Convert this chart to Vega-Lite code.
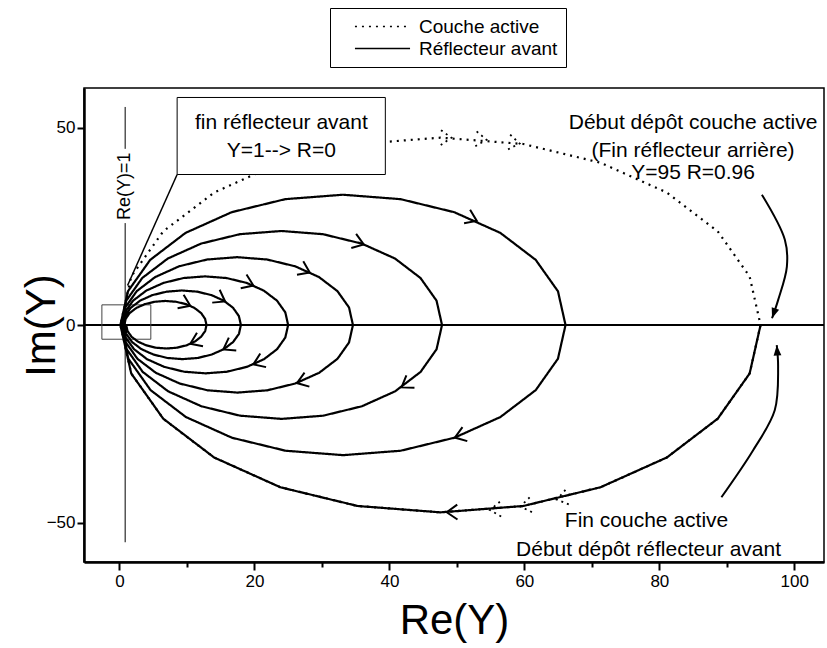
{
  "$schema": "https://vega.github.io/schema/vega-lite/v6.json",
  "width": 740,
  "height": 474,
  "autosize": {"type": "none"},
  "padding": {"left": 84, "top": 88, "right": 3, "bottom": 86},
  "background": "white",
  "config": {
    "font": "Liberation Sans",
    "view": {"stroke": "black", "strokeWidth": 1.5},
    "axis": {"grid": false, "domainColor": "black", "domainWidth": 2.5, "tickColor": "black", "tickWidth": 2, "labelColor": "black", "labelFontSize": 17, "titleColor": "black", "titleFontWeight": "normal", "titleFontSize": 42}
  },
  "datasets": {
    "curves": [
      {"s": "Réflecteur avant", "i": 0, "x": 95, "y": 0},
      {"s": "Réflecteur avant", "i": 1, "x": 93.38, "y": -12.28},
      {"s": "Réflecteur avant", "i": 2, "x": 88.65, "y": -23.72},
      {"s": "Réflecteur avant", "i": 3, "x": 81.11, "y": -33.54},
      {"s": "Réflecteur avant", "i": 4, "x": 71.28, "y": -41.08},
      {"s": "Réflecteur avant", "i": 5, "x": 59.84, "y": -45.82},
      {"s": "Réflecteur avant", "i": 6, "x": 47.57, "y": -47.43},
      {"s": "Réflecteur avant", "i": 7, "x": 35.29, "y": -45.82},
      {"s": "Réflecteur avant", "i": 8, "x": 23.85, "y": -41.08},
      {"s": "Réflecteur avant", "i": 9, "x": 14.03, "y": -33.54},
      {"s": "Réflecteur avant", "i": 10, "x": 6.49, "y": -23.72},
      {"s": "Réflecteur avant", "i": 11, "x": 1.75, "y": -12.28},
      {"s": "Réflecteur avant", "i": 12, "x": 0.14, "y": 0},
      {"s": "Réflecteur avant", "i": 13, "x": 1.26, "y": 8.54},
      {"s": "Réflecteur avant", "i": 14, "x": 4.56, "y": 16.49},
      {"s": "Réflecteur avant", "i": 15, "x": 9.8, "y": 23.32},
      {"s": "Réflecteur avant", "i": 16, "x": 16.63, "y": 28.56},
      {"s": "Réflecteur avant", "i": 17, "x": 24.58, "y": 31.86},
      {"s": "Réflecteur avant", "i": 18, "x": 33.12, "y": 32.98},
      {"s": "Réflecteur avant", "i": 19, "x": 41.65, "y": 31.86},
      {"s": "Réflecteur avant", "i": 20, "x": 49.61, "y": 28.56},
      {"s": "Réflecteur avant", "i": 21, "x": 56.44, "y": 23.32},
      {"s": "Réflecteur avant", "i": 22, "x": 61.68, "y": 16.49},
      {"s": "Réflecteur avant", "i": 23, "x": 64.98, "y": 8.54},
      {"s": "Réflecteur avant", "i": 24, "x": 66.1, "y": 0},
      {"s": "Réflecteur avant", "i": 25, "x": 64.98, "y": -8.53},
      {"s": "Réflecteur avant", "i": 26, "x": 61.69, "y": -16.48},
      {"s": "Réflecteur avant", "i": 27, "x": 56.45, "y": -23.3},
      {"s": "Réflecteur avant", "i": 28, "x": 49.63, "y": -28.54},
      {"s": "Réflecteur avant", "i": 29, "x": 41.68, "y": -31.83},
      {"s": "Réflecteur avant", "i": 30, "x": 33.15, "y": -32.95},
      {"s": "Réflecteur avant", "i": 31, "x": 24.62, "y": -31.83},
      {"s": "Réflecteur avant", "i": 32, "x": 16.67, "y": -28.54},
      {"s": "Réflecteur avant", "i": 33, "x": 9.85, "y": -23.3},
      {"s": "Réflecteur avant", "i": 34, "x": 4.61, "y": -16.48},
      {"s": "Réflecteur avant", "i": 35, "x": 1.32, "y": -8.53},
      {"s": "Réflecteur avant", "i": 36, "x": 0.2, "y": 0},
      {"s": "Réflecteur avant", "i": 37, "x": 1.01, "y": 6.16},
      {"s": "Réflecteur avant", "i": 38, "x": 3.38, "y": 11.9},
      {"s": "Réflecteur avant", "i": 39, "x": 7.17, "y": 16.83},
      {"s": "Réflecteur avant", "i": 40, "x": 12.1, "y": 20.61},
      {"s": "Réflecteur avant", "i": 41, "x": 17.84, "y": 22.99},
      {"s": "Réflecteur avant", "i": 42, "x": 24.0, "y": 23.8},
      {"s": "Réflecteur avant", "i": 43, "x": 30.16, "y": 22.99},
      {"s": "Réflecteur avant", "i": 44, "x": 35.9, "y": 20.61},
      {"s": "Réflecteur avant", "i": 45, "x": 40.83, "y": 16.83},
      {"s": "Réflecteur avant", "i": 46, "x": 44.61, "y": 11.9},
      {"s": "Réflecteur avant", "i": 47, "x": 46.99, "y": 6.16},
      {"s": "Réflecteur avant", "i": 48, "x": 47.8, "y": 0},
      {"s": "Réflecteur avant", "i": 49, "x": 46.99, "y": -6.15},
      {"s": "Réflecteur avant", "i": 50, "x": 44.62, "y": -11.88},
      {"s": "Réflecteur avant", "i": 51, "x": 40.84, "y": -16.8},
      {"s": "Réflecteur avant", "i": 52, "x": 35.92, "y": -20.58},
      {"s": "Réflecteur avant", "i": 53, "x": 30.19, "y": -22.96},
      {"s": "Réflecteur avant", "i": 54, "x": 24.04, "y": -23.77},
      {"s": "Réflecteur avant", "i": 55, "x": 17.88, "y": -22.96},
      {"s": "Réflecteur avant", "i": 56, "x": 12.15, "y": -20.58},
      {"s": "Réflecteur avant", "i": 57, "x": 7.23, "y": -16.8},
      {"s": "Réflecteur avant", "i": 58, "x": 3.45, "y": -11.88},
      {"s": "Réflecteur avant", "i": 59, "x": 1.08, "y": -6.15},
      {"s": "Réflecteur avant", "i": 60, "x": 0.27, "y": 0},
      {"s": "Réflecteur avant", "i": 61, "x": 0.86, "y": 4.44},
      {"s": "Réflecteur avant", "i": 62, "x": 2.57, "y": 8.58},
      {"s": "Réflecteur avant", "i": 63, "x": 5.3, "y": 12.14},
      {"s": "Réflecteur avant", "i": 64, "x": 8.85, "y": 14.87},
      {"s": "Réflecteur avant", "i": 65, "x": 12.99, "y": 16.58},
      {"s": "Réflecteur avant", "i": 66, "x": 17.44, "y": 17.17},
      {"s": "Réflecteur avant", "i": 67, "x": 21.88, "y": 16.58},
      {"s": "Réflecteur avant", "i": 68, "x": 26.02, "y": 14.87},
      {"s": "Réflecteur avant", "i": 69, "x": 29.57, "y": 12.14},
      {"s": "Réflecteur avant", "i": 70, "x": 32.3, "y": 8.58},
      {"s": "Réflecteur avant", "i": 71, "x": 34.02, "y": 4.44},
      {"s": "Réflecteur avant", "i": 72, "x": 34.6, "y": 0},
      {"s": "Réflecteur avant", "i": 73, "x": 34.02, "y": -4.43},
      {"s": "Réflecteur avant", "i": 74, "x": 32.31, "y": -8.56},
      {"s": "Réflecteur avant", "i": 75, "x": 29.59, "y": -12.1},
      {"s": "Réflecteur avant", "i": 76, "x": 26.04, "y": -14.82},
      {"s": "Réflecteur avant", "i": 77, "x": 21.92, "y": -16.53},
      {"s": "Réflecteur avant", "i": 78, "x": 17.49, "y": -17.11},
      {"s": "Réflecteur avant", "i": 79, "x": 13.06, "y": -16.53},
      {"s": "Réflecteur avant", "i": 80, "x": 8.93, "y": -14.82},
      {"s": "Réflecteur avant", "i": 81, "x": 5.39, "y": -12.1},
      {"s": "Réflecteur avant", "i": 82, "x": 2.67, "y": -8.56},
      {"s": "Réflecteur avant", "i": 83, "x": 0.96, "y": -4.43},
      {"s": "Réflecteur avant", "i": 84, "x": 0.37, "y": 0},
      {"s": "Réflecteur avant", "i": 85, "x": 0.79, "y": 3.19},
      {"s": "Réflecteur avant", "i": 86, "x": 2.02, "y": 6.16},
      {"s": "Réflecteur avant", "i": 87, "x": 3.98, "y": 8.71},
      {"s": "Réflecteur avant", "i": 88, "x": 6.53, "y": 10.66},
      {"s": "Réflecteur avant", "i": 89, "x": 9.5, "y": 11.89},
      {"s": "Réflecteur avant", "i": 90, "x": 12.69, "y": 12.31},
      {"s": "Réflecteur avant", "i": 91, "x": 15.87, "y": 11.89},
      {"s": "Réflecteur avant", "i": 92, "x": 18.84, "y": 10.66},
      {"s": "Réflecteur avant", "i": 93, "x": 21.39, "y": 8.71},
      {"s": "Réflecteur avant", "i": 94, "x": 23.35, "y": 6.16},
      {"s": "Réflecteur avant", "i": 95, "x": 24.58, "y": 3.19},
      {"s": "Réflecteur avant", "i": 96, "x": 25.0, "y": 0},
      {"s": "Réflecteur avant", "i": 97, "x": 24.58, "y": -3.17},
      {"s": "Réflecteur avant", "i": 98, "x": 23.36, "y": -6.12},
      {"s": "Réflecteur avant", "i": 99, "x": 21.42, "y": -8.66},
      {"s": "Réflecteur avant", "i": 100, "x": 18.88, "y": -10.6},
      {"s": "Réflecteur avant", "i": 101, "x": 15.93, "y": -11.83},
      {"s": "Réflecteur avant", "i": 102, "x": 12.76, "y": -12.24},
      {"s": "Réflecteur avant", "i": 103, "x": 9.59, "y": -11.83},
      {"s": "Réflecteur avant", "i": 104, "x": 6.64, "y": -10.6},
      {"s": "Réflecteur avant", "i": 105, "x": 4.1, "y": -8.66},
      {"s": "Réflecteur avant", "i": 106, "x": 2.16, "y": -6.12},
      {"s": "Réflecteur avant", "i": 107, "x": 0.93, "y": -3.17},
      {"s": "Réflecteur avant", "i": 108, "x": 0.52, "y": 0},
      {"s": "Réflecteur avant", "i": 109, "x": 0.81, "y": 2.26},
      {"s": "Réflecteur avant", "i": 110, "x": 1.69, "y": 4.37},
      {"s": "Réflecteur avant", "i": 111, "x": 3.08, "y": 6.18},
      {"s": "Réflecteur avant", "i": 112, "x": 4.89, "y": 7.57},
      {"s": "Réflecteur avant", "i": 113, "x": 7.0, "y": 8.44},
      {"s": "Réflecteur avant", "i": 114, "x": 9.26, "y": 8.74},
      {"s": "Réflecteur avant", "i": 115, "x": 11.52, "y": 8.44},
      {"s": "Réflecteur avant", "i": 116, "x": 13.63, "y": 7.57},
      {"s": "Réflecteur avant", "i": 117, "x": 15.44, "y": 6.18},
      {"s": "Réflecteur avant", "i": 118, "x": 16.83, "y": 4.37},
      {"s": "Réflecteur avant", "i": 119, "x": 17.7, "y": 2.26},
      {"s": "Réflecteur avant", "i": 120, "x": 18.0, "y": 0},
      {"s": "Réflecteur avant", "i": 121, "x": 17.71, "y": -2.24},
      {"s": "Réflecteur avant", "i": 122, "x": 16.84, "y": -4.32},
      {"s": "Réflecteur avant", "i": 123, "x": 15.47, "y": -6.11},
      {"s": "Réflecteur avant", "i": 124, "x": 13.68, "y": -7.48},
      {"s": "Réflecteur avant", "i": 125, "x": 11.6, "y": -8.35},
      {"s": "Réflecteur avant", "i": 126, "x": 9.36, "y": -8.64},
      {"s": "Réflecteur avant", "i": 127, "x": 7.12, "y": -8.35},
      {"s": "Réflecteur avant", "i": 128, "x": 5.04, "y": -7.48},
      {"s": "Réflecteur avant", "i": 129, "x": 3.25, "y": -6.11},
      {"s": "Réflecteur avant", "i": 130, "x": 1.88, "y": -4.32},
      {"s": "Réflecteur avant", "i": 131, "x": 1.01, "y": -2.24},
      {"s": "Réflecteur avant", "i": 132, "x": 0.72, "y": 0},
      {"s": "Réflecteur avant", "i": 133, "x": 0.93, "y": 1.58},
      {"s": "Réflecteur avant", "i": 134, "x": 1.53, "y": 3.05},
      {"s": "Réflecteur avant", "i": 135, "x": 2.5, "y": 4.31},
      {"s": "Réflecteur avant", "i": 136, "x": 3.76, "y": 5.28},
      {"s": "Réflecteur avant", "i": 137, "x": 5.23, "y": 5.88},
      {"s": "Réflecteur avant", "i": 138, "x": 6.81, "y": 6.09},
      {"s": "Réflecteur avant", "i": 139, "x": 8.39, "y": 5.88},
      {"s": "Réflecteur avant", "i": 140, "x": 9.86, "y": 5.28},
      {"s": "Réflecteur avant", "i": 141, "x": 11.12, "y": 4.31},
      {"s": "Réflecteur avant", "i": 142, "x": 12.09, "y": 3.05},
      {"s": "Réflecteur avant", "i": 143, "x": 12.69, "y": 1.58},
      {"s": "Réflecteur avant", "i": 144, "x": 12.9, "y": 0},
      {"s": "Réflecteur avant", "i": 145, "x": 12.7, "y": -1.54},
      {"s": "Réflecteur avant", "i": 146, "x": 12.1, "y": -2.98},
      {"s": "Réflecteur avant", "i": 147, "x": 11.16, "y": -4.21},
      {"s": "Réflecteur avant", "i": 148, "x": 9.93, "y": -5.15},
      {"s": "Réflecteur avant", "i": 149, "x": 8.49, "y": -5.75},
      {"s": "Réflecteur avant", "i": 150, "x": 6.95, "y": -5.95},
      {"s": "Réflecteur avant", "i": 151, "x": 5.41, "y": -5.75},
      {"s": "Réflecteur avant", "i": 152, "x": 3.98, "y": -5.15},
      {"s": "Réflecteur avant", "i": 153, "x": 2.74, "y": -4.21},
      {"s": "Réflecteur avant", "i": 154, "x": 1.8, "y": -2.98},
      {"s": "Réflecteur avant", "i": 155, "x": 1.2, "y": -1.54},
      {"s": "Réflecteur avant", "i": 156, "x": 1.0, "y": 0},
      {"s": "Couche active", "i": 0, "x": 95, "y": 0},
      {"s": "Couche active", "i": 1, "x": 93.38, "y": -12.28},
      {"s": "Couche active", "i": 2, "x": 88.65, "y": -23.72},
      {"s": "Couche active", "i": 3, "x": 81.11, "y": -33.54},
      {"s": "Couche active", "i": 4, "x": 71.28, "y": -41.08},
      {"s": "Couche active", "i": 5, "x": 59.84, "y": -45.82},
      {"s": "Couche active", "i": 6, "x": 47.57, "y": -47.43},
      {"s": "Couche active", "i": 7, "x": 35.29, "y": -45.82},
      {"s": "Couche active", "i": 8, "x": 23.85, "y": -41.08},
      {"s": "Couche active", "i": 9, "x": 14.03, "y": -33.54},
      {"s": "Couche active", "i": 10, "x": 6.49, "y": -23.72},
      {"s": "Couche active", "i": 11, "x": 1.75, "y": -12.28},
      {"s": "Couche active", "i": 12, "x": 0.14, "y": 0},
      {"s": "Couche active", "i": 13, "x": 1.75, "y": 12.28},
      {"s": "Couche active", "i": 14, "x": 6.49, "y": 23.72},
      {"s": "Couche active", "i": 15, "x": 14.03, "y": 33.54},
      {"s": "Couche active", "i": 16, "x": 23.85, "y": 41.08},
      {"s": "Couche active", "i": 17, "x": 35.29, "y": 45.82},
      {"s": "Couche active", "i": 18, "x": 47.57, "y": 47.43},
      {"s": "Couche active", "i": 19, "x": 59.84, "y": 45.82},
      {"s": "Couche active", "i": 20, "x": 71.28, "y": 41.08},
      {"s": "Couche active", "i": 21, "x": 81.11, "y": 33.54},
      {"s": "Couche active", "i": 22, "x": 88.65, "y": 23.72},
      {"s": "Couche active", "i": 23, "x": 93.38, "y": 12.28},
      {"s": "Couche active", "i": 24, "x": 95, "y": 0}
    ],
    "arrows": [
      {"s": "Réflecteur avant", "x": 10.5, "y": 4.85, "a": 24},
      {"s": "Réflecteur avant", "x": 15.66, "y": 5.95, "a": 30},
      {"s": "Réflecteur avant", "x": 19.85, "y": 10.0, "a": 23},
      {"s": "Réflecteur avant", "x": 28.2, "y": 13.3, "a": 25},
      {"s": "Réflecteur avant", "x": 36.2, "y": 20.4, "a": 19},
      {"s": "Réflecteur avant", "x": 52.95, "y": 26.36, "a": 24},
      {"s": "Réflecteur avant", "x": 10.5, "y": -4.77, "a": 156},
      {"s": "Réflecteur avant", "x": 15.4, "y": -6.18, "a": 150},
      {"s": "Réflecteur avant", "x": 19.85, "y": -9.98, "a": 157},
      {"s": "Réflecteur avant", "x": 26.3, "y": -14.7, "a": 161},
      {"s": "Réflecteur avant", "x": 41.8, "y": -15.8, "a": 147},
      {"s": "Réflecteur avant", "x": 49.7, "y": -28.5, "a": 161},
      {"s": "Réflecteur avant", "x": 48.5, "y": -47.4, "a": 179},
      {"s": "Couche active", "x": 49.2, "y": 47.4, "a": 1},
      {"s": "Couche active", "x": 54.4, "y": 46.9, "a": 5},
      {"s": "Couche active", "x": 59.3, "y": 45.96, "a": 8},
      {"s": "Couche active", "x": 54.9, "y": -46.86, "a": 175},
      {"s": "Couche active", "x": 59.4, "y": -45.93, "a": 171},
      {"s": "Couche active", "x": 64.8, "y": -44.19, "a": 167}
    ],
    "segs": [
      {"g": "axis", "i": 0, "x": -5.25, "y": 0},
      {"g": "axis", "i": 1, "x": 104.4, "y": 0},
      {"g": "re1a", "i": 0, "x": 0.85, "y": 55.2},
      {"g": "re1a", "i": 1, "x": 0.85, "y": 44.6},
      {"g": "re1b", "i": 0, "x": 0.85, "y": 25.8},
      {"g": "re1b", "i": 1, "x": 0.85, "y": -55},
      {"g": "callout", "i": 0, "x": 8.55, "y": 38.1},
      {"g": "callout", "i": 1, "x": 1.2, "y": 10},
      {"g": "arr1", "i": 0, "x": 95.2, "y": 33.0},
      {"g": "arr1", "i": 1, "x": 98.6, "y": 21.6},
      {"g": "arr1", "i": 2, "x": 98.9, "y": 14.8},
      {"g": "arr1", "i": 3, "x": 97.6, "y": 6.3},
      {"g": "arr1", "i": 4, "x": 96.7, "y": 1.7},
      {"g": "arr2", "i": 0, "x": 89.2, "y": -43.6},
      {"g": "arr2", "i": 1, "x": 93.9, "y": -31.7},
      {"g": "arr2", "i": 2, "x": 97.1, "y": -21.6},
      {"g": "arr2", "i": 3, "x": 97.6, "y": -10.6},
      {"g": "arr2", "i": 4, "x": 97.4, "y": -5.1}
    ],
    "heads": [
      {"x": 96.7, "y": 1.7, "a": 109},
      {"x": 97.4, "y": -5.1, "a": 266}
    ],
    "boxes": [
      {"b": "zoom", "x": -2.6, "x2": 4.65, "y": 5.1, "y2": -3.6},
      {"b": "note", "x": 8.55, "x2": 39.4, "y": 57.6, "y2": 38.1}
    ],
    "notes": [
      {"t": "fin réflecteur avant", "x": 24.0, "y": 51.2},
      {"t": "Y=1--> R=0", "x": 24.0, "y": 44.0},
      {"t": "Début dépôt couche active", "x": 85.0, "y": 51.2},
      {"t": "(Fin réflecteur arrière)", "x": 85.0, "y": 44.0},
      {"t": "Y=95 R=0.96", "x": 85.0, "y": 38.5},
      {"t": "Fin couche active", "x": 78.1, "y": -49.5},
      {"t": "Début dépôt réflecteur avant", "x": 78.4, "y": -56.9}
    ],
    "vnote": [
      {"t": "Re(Y)=1", "x": 0.85, "y": 35.1}
    ]
  },
  "encoding": {
    "x": {"field": "x", "type": "quantitative", "scale": {"domain": [-5.25, 104.4], "nice": false, "zero": false},
      "axis": {"values": [0, 10, 20, 30, 40, 50, 60, 70, 80, 90, 100], "labelExpr": "datum.value % 20 === 0 ? datum.label : ''", "tickSize": {"condition": {"test": "datum.value % 20 === 0", "value": 8}, "value": 5}, "labelPadding": 3, "labelFlush": false, "labelOverlap": false, "title": "Re(Y)", "titleX": 370, "titleY": 58, "titleBaseline": "middle"}},
    "y": {"field": "y", "type": "quantitative", "scale": {"domain": [-60, 60], "nice": false, "zero": false},
      "axis": {"values": [-50, 0, 50], "tickSize": 7, "labelPadding": 2, "title": "Im(Y)", "titleX": -43, "titleY": 237, "titleBaseline": "middle"}}
  },
  "layer": [
    {
      "data": {"name": "segs"},
      "transform": [{"filter": "datum.g === 'axis'"}],
      "mark": {"type": "line", "color": "black", "strokeWidth": 2},
      "encoding": {"detail": {"field": "g"}, "order": {"field": "i"}}
    },
    {
      "data": {"name": "segs"},
      "transform": [{"filter": "datum.g === 're1a' || datum.g === 're1b'"}],
      "mark": {"type": "line", "color": "black", "strokeWidth": 1},
      "encoding": {"detail": {"field": "g"}, "order": {"field": "i"}}
    },
    {
      "data": {"name": "boxes"},
      "transform": [{"filter": "datum.b === 'zoom'"}],
      "mark": {"type": "rect", "fill": null, "fillOpacity": 0, "stroke": "#444444", "strokeWidth": 1},
      "encoding": {"x2": {"field": "x2"}, "y2": {"field": "y2"}}
    },
    {
      "data": {"name": "curves"},
      "mark": {"type": "line", "color": "black", "strokeWidth": 2.2},
      "encoding": {
        "order": {"field": "i"},
        "strokeDash": {"field": "s", "type": "nominal",
          "scale": {"domain": ["Couche active", "Réflecteur avant"], "range": [[2, 5], [1, 0]]},
          "legend": {"title": null, "orient": "none", "legendX": 246, "legendY": -80, "strokeColor": "black", "fillColor": "white", "padding": 8, "labelFontSize": 19, "labelColor": "black", "symbolType": "M-2.9,0L2.9,0", "symbolSize": 361, "symbolStrokeWidth": 1.5, "symbolStrokeColor": "black", "symbolFillColor": "transparent", "symbolOffset": 34, "labelOffset": 26, "rowPadding": 1}}
      }
    },
    {
      "data": {"name": "arrows"},
      "transform": [{"filter": "datum.s === 'Réflecteur avant'"}],
      "mark": {"type": "point", "shape": "M-1,-0.7L0,0L-1,0.7", "filled": false, "size": 450, "stroke": "black", "strokeWidth": 2, "opacity": 1},
      "encoding": {"angle": {"field": "a", "type": "quantitative", "scale": null}}
    },
    {
      "data": {"name": "arrows"},
      "transform": [{"filter": "datum.s === 'Couche active'"}],
      "mark": {"type": "point", "shape": "M-1,-0.7L0,0L-1,0.7", "filled": false, "size": 450, "stroke": "black", "strokeWidth": 1.8, "strokeDash": [2, 4], "opacity": 1},
      "encoding": {"angle": {"field": "a", "type": "quantitative", "scale": null}}
    },
    {
      "data": {"name": "boxes"},
      "transform": [{"filter": "datum.b === 'note'"}],
      "mark": {"type": "rect", "fill": "white", "stroke": "black", "strokeWidth": 1},
      "encoding": {"x2": {"field": "x2"}, "y2": {"field": "y2"}}
    },
    {
      "data": {"name": "segs"},
      "transform": [{"filter": "datum.g === 'callout'"}],
      "mark": {"type": "line", "color": "black", "strokeWidth": 1.5},
      "encoding": {"detail": {"field": "g"}, "order": {"field": "i"}}
    },
    {
      "data": {"name": "segs"},
      "transform": [{"filter": "datum.g === 'arr1' || datum.g === 'arr2'"}],
      "mark": {"type": "line", "color": "black", "strokeWidth": 2, "interpolate": "catmull-rom"},
      "encoding": {"detail": {"field": "g"}, "order": {"field": "i"}}
    },
    {
      "data": {"name": "heads"},
      "mark": {"type": "point", "shape": "M0,0L-1.2,-0.45L-1.2,0.45Z", "filled": true, "size": 300, "color": "black", "opacity": 1},
      "encoding": {"angle": {"field": "a", "type": "quantitative", "scale": null}}
    },
    {
      "data": {"name": "notes"},
      "mark": {"type": "text", "fontSize": 21, "align": "center", "baseline": "middle", "color": "black"},
      "encoding": {"text": {"field": "t"}}
    },
    {
      "data": {"name": "vnote"},
      "mark": {"type": "text", "fontSize": 18, "align": "center", "baseline": "middle", "color": "black", "angle": 270},
      "encoding": {"text": {"field": "t"}}
    }
  ]
}
